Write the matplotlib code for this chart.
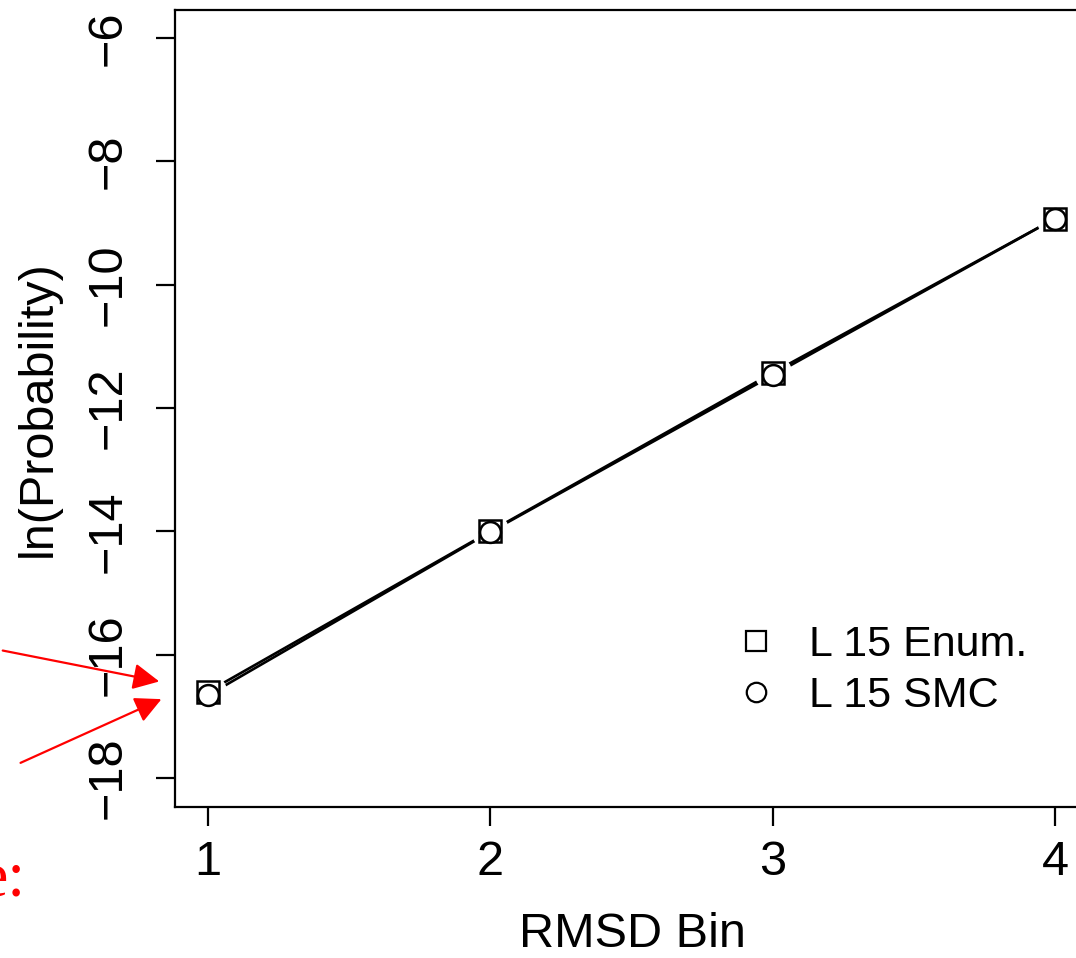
import matplotlib
matplotlib.use('Agg')
import matplotlib.pyplot as plt
from matplotlib.lines import Line2D

plt.rcParams['font.family'] = ['Liberation Sans', 'DejaVu Sans']

# data
rmsd_bin = [1, 2, 3, 4]
enum_vals = [-16.60, -14.00, -11.43, -8.93]
smc_vals = [-16.66, -14.01, -11.47, -8.93]
y_ticks = [-18, -16, -14, -12, -10, -8, -6]
labels = ['L 15 Enum.', 'L 15 SMC']

W, H = 1076, 958
fig = plt.figure(figsize=(W / 100, H / 100), dpi=100)
ax = fig.add_axes([175 / W, 1 - 807 / H, (1089 - 175) / W, (807 - 10) / H])

# lines first, then white halos to break the line near points (R type="b")
ax.plot(rmsd_bin, enum_vals, color='black', lw=1.9, zorder=2)
ax.plot(rmsd_bin, smc_vals, color='black', lw=1.9, zorder=2)
ax.plot(rmsd_bin, enum_vals, ls='none', marker='o', ms=26, mfc='white', mec='white', zorder=3)
ax.plot(rmsd_bin, enum_vals, ls='none', marker='s', ms=16, mfc='white', mec='black', mew=1.8, zorder=4)
ax.plot(rmsd_bin, smc_vals, ls='none', marker='o', ms=15, mfc='white', mec='black', mew=1.8, zorder=5)

ax.set_xlim(0.883, 4.12)
ax.set_ylim(-18.47, -5.55)
ax.set_xticks(rmsd_bin)
ax.set_yticks(y_ticks)
ax.set_yticklabels(['\u2212' + str(-v) for v in y_ticks], rotation=90, va='center')
ax.tick_params(axis='both', labelsize=35, length=14, width=1.6, direction='out')
ax.tick_params(axis='x', pad=10)
ax.tick_params(axis='y', pad=18)
for s in ax.spines.values():
    s.set_linewidth(1.6)

ax.set_xlabel('RMSD Bin', fontsize=35, labelpad=19)
ax.set_ylabel('ln(Probability)', fontsize=35, labelpad=18)

handles = [Line2D([], [], ls='none', marker='s', ms=15, mfc='white', mec='black', mew=1.6),
           Line2D([], [], ls='none', marker='o', ms=14, mfc='white', mec='black', mew=1.6)]
ax.legend(handles, labels, loc='upper left', frameon=False, fontsize=31,
          bbox_to_anchor=(734 / W, 1 - 625 / H), bbox_transform=fig.transFigure,
          handlelength=1.0, handletextpad=0.75, labelspacing=0.25, borderpad=0,
          borderaxespad=0)

# red annotation arrows and the cut-off caption from the source slide
arrow = dict(arrowstyle='-|>', color='red', lw=1.6, mutation_scale=40)
fig.text(26 / W, 1 - 880 / H, 'e:', color='red', fontsize=46, family='Liberation Serif',
         ha='right', va='center')
ax.annotate('', xy=(162, H - 682), xycoords='figure pixels', xytext=(0, H - 650),
            textcoords='figure pixels', arrowprops=arrow, annotation_clip=False)
ax.annotate('', xy=(164, H - 698), xycoords='figure pixels', xytext=(18, H - 764),
            textcoords='figure pixels', arrowprops=arrow, annotation_clip=False)

fig.savefig('out.png', dpi=100)
